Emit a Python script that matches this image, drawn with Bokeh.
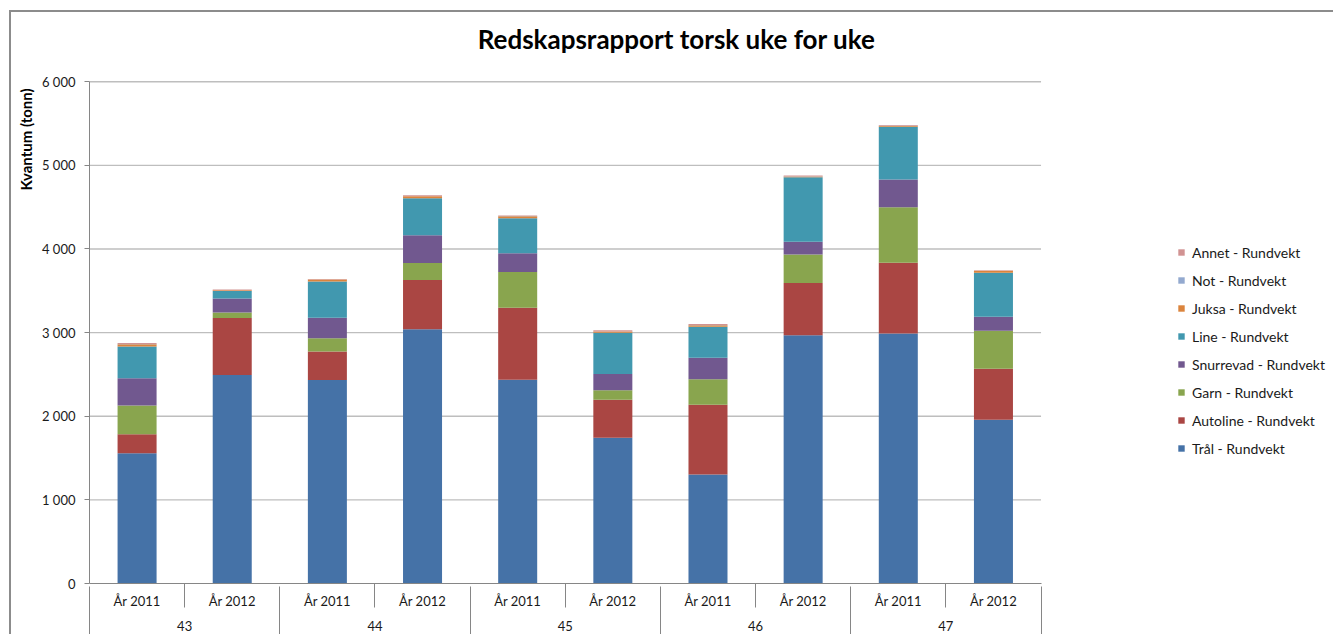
from bokeh.plotting import figure
from bokeh.models import (ColumnDataSource, Range1d, LinearAxis, FixedTicker,
                          Legend, LegendItem, Label)
from bokeh.embed import file_html
from bokeh.resources import INLINE

# ---------------- data ----------------
weeks = ["43", "44", "45", "46", "47"]
years = ["År 2011", "År 2012"]
tral      = [1558, 2493, 2433, 3041, 2437, 1742, 1303, 2969, 2989, 1958]
autoline  = [228, 683, 340, 587, 860, 456, 835, 623, 847, 611]
garn      = [344, 66, 161, 204, 428, 113, 304, 343, 663, 452]
snurrevad = [324, 166, 244, 331, 223, 195, 259, 152, 332, 168]
line      = [379, 89, 432, 444, 420, 491, 368, 771, 631, 527]
juksa     = [29, 10, 24, 24, 24, 16, 20, 10, 10, 24]
not_      = [2, 1, 2, 1, 2, 1, 1, 1, 1, 1]
annet     = [12, 8, 6, 12, 8, 14, 14, 10, 10, 6]
series_names = ["Trål - Rundvekt", "Autoline - Rundvekt", "Garn - Rundvekt",
                "Snurrevad - Rundvekt", "Line - Rundvekt", "Juksa - Rundvekt",
                "Not - Rundvekt", "Annet - Rundvekt"]
y_ticks = [0, 1000, 2000, 3000, 4000, 5000, 6000]
y_max = 6000
title_text = "Redskapsrapport torsk uke for uke"
y_title = "Kvantum (tonn)"

colors = ["#4572A7", "#AA4643", "#89A54E", "#71588F", "#4198AF", "#DB843D",
          "#93A9CF", "#D19392"]
FONT = "Lato"
TXT = "#1a1a1a"
AXC = "#868686"
GRID = "#BEBEBE"

# layout (pixels): the frame covers the plot area plus the title/legend room
FIG_W, FIG_H = 1324, 624
LEFT, BOTTOM = 78, 53
PLOT_W, PLOT_H = 950, 500          # size of the actual plotting area
FRAME_W = FIG_W - 2 - LEFT
FRAME_H = FIG_H - 2 - BOTTOM

n = len(weeks) * len(years)
xs = [i + 0.5 for i in range(n)]
keys = ["tral", "autoline", "garn", "snurrevad", "line", "juksa", "not_", "annet"]
source = ColumnDataSource(dict(x=xs, tral=tral, autoline=autoline, garn=garn,
                               snurrevad=snurrevad, line=line, juksa=juksa,
                               not_=not_, annet=annet))

p = figure(width=FIG_W, height=FIG_H, output_backend="svg", toolbar_location=None,
           x_range=Range1d(0, n * FRAME_W / PLOT_W),
           y_range=Range1d(0, y_max * FRAME_H / PLOT_H),
           x_axis_location=None, y_axis_location="left",
           min_border_left=LEFT, min_border_right=0, min_border_top=0,
           min_border_bottom=BOTTOM, background_fill_color="white",
           border_fill_color="white")
p.title.visible = False
p.outline_line_color = None
p.xgrid.visible = False
p.ygrid.visible = False

# horizontal gridlines limited to the category area
grid_y = y_ticks[1:]
p.segment(x0=[0] * len(grid_y), x1=[n] * len(grid_y), y0=grid_y, y1=grid_y,
          line_color=GRID, line_width=1.3)

renderers = p.vbar_stack(keys, x="x", width=0.41, source=source,
                         color=colors, line_color=None)

# y axis
ya = p.yaxis[0]
ya.bounds = (0, y_max)
ya.ticker = FixedTicker(ticks=y_ticks, minor_ticks=[])
ya.major_label_overrides = {t: f"{t:,}".replace(",", " ") for t in y_ticks}
ya.axis_line_color = AXC
ya.major_tick_line_color = AXC
ya.major_tick_out = 5
ya.major_tick_in = 0
ya.minor_tick_line_color = None
ya.major_label_standoff = 9
ya.major_label_text_font = FONT
ya.major_label_text_font_size = "13px"
ya.major_label_text_color = TXT
# axis title sits at the top of the axis, as in the source chart
ya.axis_label = "\u00a0" * 87 + y_title
ya.axis_label_text_font = FONT
ya.axis_label_text_font_style = "bold"
ya.axis_label_text_font_size = "15px"
ya.axis_label_text_color = "black"
ya.axis_label_standoff = 4

# x axis level 1 (years)
centers = xs
inner_bounds = [2 * i + 1 for i in range(len(weeks))]
ax1 = LinearAxis(ticker=FixedTicker(ticks=centers, minor_ticks=inner_bounds),
                 major_label_overrides={c: years[i % 2] for i, c in enumerate(centers)},
                 bounds=(0, n))
ax1.axis_line_color = AXC
ax1.major_tick_line_color = None
ax1.major_tick_out = 0
ax1.major_tick_in = 0
ax1.minor_tick_line_color = AXC
ax1.minor_tick_out = 24
ax1.minor_tick_in = 0
ax1.major_label_standoff = -15
ax1.major_label_text_font = FONT
ax1.major_label_text_font_size = "13px"
ax1.major_label_text_color = TXT
p.add_layout(ax1, "below")

# x axis level 2 (weeks)
group_centers = [2 * i + 1 for i in range(len(weeks))]
group_bounds = [2 * i for i in range(len(weeks) + 1)]
ax2 = LinearAxis(ticker=FixedTicker(ticks=group_centers, minor_ticks=group_bounds),
                 major_label_overrides={c: weeks[i] for i, c in enumerate(group_centers)},
                 bounds=(0, n))
ax2.axis_line_color = None
ax2.major_tick_line_color = None
ax2.major_tick_out = 0
ax2.major_tick_in = 0
ax2.minor_tick_line_color = AXC
ax2.minor_tick_in = 25
ax2.minor_tick_out = 28
ax2.major_label_standoff = -19
ax2.major_label_text_font = FONT
ax2.major_label_text_font_size = "13px"
ax2.major_label_text_color = TXT
p.add_layout(ax2, "below")

# chart title
title = Label(text=title_text, x=587, y=545, x_units="screen", y_units="screen",
              text_align="center", text_baseline="alphabetic",
              text_font=FONT, text_font_style="bold", text_font_size="26px",
              text_color="black")
p.add_layout(title)

# legend (reversed order as in source)
items = [LegendItem(label=series_names[i], renderers=[renderers[i]])
         for i in range(len(keys) - 1, -1, -1)]
legend = Legend(items=items, location=(1088, 125), orientation="vertical")
legend.padding = 0
legend.margin = 0
legend.border_line_color = None
legend.background_fill_alpha = 0
legend.glyph_width = 8
legend.glyph_height = 8
legend.label_height = 20
legend.spacing = 8
legend.label_standoff = 7
legend.label_text_font = FONT
legend.label_text_font_size = "14px"
legend.label_text_color = TXT
p.add_layout(legend, "center")

p.styles = {"margin-left": "9px", "margin-top": "10px",
            "border-left": "2px solid #8c8c8c", "border-top": "2px solid #8c8c8c",
            "box-sizing": "border-box"}

open("out.html", "w").write(file_html(p, INLINE))
